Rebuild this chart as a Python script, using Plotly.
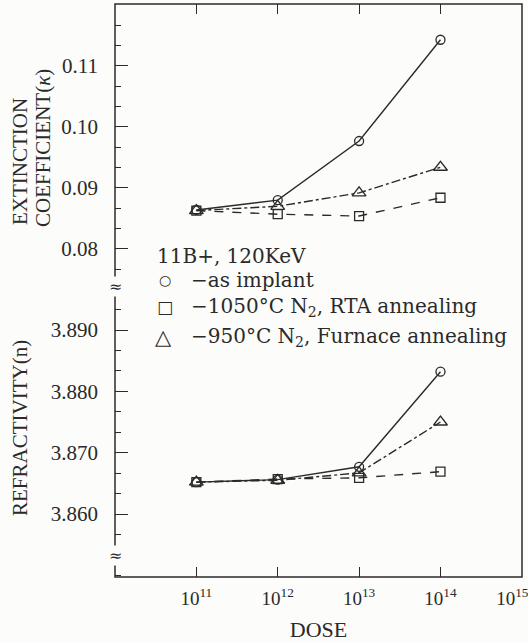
import plotly.graph_objects as go

# ---- data ----
dose = [1e11, 1e12, 1e13, 1e14]
kappa_implant = [0.0864, 0.0880, 0.0977, 0.1143]
kappa_rta = [0.0863, 0.0857, 0.0854, 0.0884]
kappa_furnace = [0.0863, 0.0870, 0.0892, 0.0934]
n_implant = [3.8652, 3.8656, 3.8677, 3.8832]
n_rta = [3.8652, 3.8657, 3.8659, 3.8669]
n_furnace = [3.8652, 3.8655, 3.8667, 3.8750]

x_tickvals = [1e11, 1e12, 1e13, 1e14, 1e15]
x_ticktext = ["10<sup>11</sup>", "10<sup>12</sup>", "10<sup>13</sup>", "10<sup>14</sup>",
              "10<sup>15</sup>&nbsp;&nbsp;&nbsp;&nbsp;"]
k_tickvals = [0.08, 0.09, 0.10, 0.11]
n_tickvals = [3.860, 3.870, 3.880, 3.890]

FONT = "Liberation Serif"
INK = "#2a2a2a"
BG = "#fcfcfa"
W, H = 528, 643
L, R, T, B = 115, 6, 4, 66
plot_h = H - T - B
split_px = 287
split = (H - B - split_px) / plot_h


def py(p):
    return (H - B - p) / plot_h


fig = go.Figure()

styles = [
    ("as implant", "circle-open", "solid", 9, kappa_implant, n_implant),
    ("RTA", "square-open", "dash", 9, kappa_rta, n_rta),
    ("Furnace", "triangle-up-open", "dashdot", 12, kappa_furnace, n_furnace),
]
for name, sym, dash, ms, kv, nv in [styles[2], styles[0], styles[1]]:
    fig.add_trace(go.Scatter(x=dose, y=kv, xaxis="x2", yaxis="y", mode="lines+markers",
                             line=dict(color=INK, width=1.4, dash=dash),
                             marker=dict(symbol=sym, size=ms, color=INK, line=dict(width=1.3, color=INK)),
                             showlegend=False, name=name))
    fig.add_trace(go.Scatter(x=dose, y=nv, xaxis="x", yaxis="y2", mode="lines+markers",
                             line=dict(color=INK, width=1.4, dash=dash),
                             marker=dict(symbol=sym, size=ms, color=INK, line=dict(width=1.3, color=INK)),
                             showlegend=False, name=name))

tickfont = dict(family=FONT, size=21, color=INK)

fig.update_layout(
    width=W, height=H,
    margin=dict(l=L, r=R, t=T, b=B, autoexpand=False),
    paper_bgcolor=BG, plot_bgcolor=BG,
    font=dict(family=FONT, color=INK),
    xaxis=dict(type="log", range=[10, 15.002], anchor="y2", domain=[0, 1], automargin=False,
               tickvals=x_tickvals, ticktext=x_ticktext, ticks="inside", ticklen=10,
               tickwidth=1.3, tickcolor=INK, tickfont=dict(family=FONT, size=19, color=INK),
               showgrid=False, zeroline=False, showline=False, ticklabelstandoff=8,
               ticklabeloverflow="allow",
               title=dict(text="DOSE", font=dict(family=FONT, size=22, color=INK), standoff=13)),
    xaxis2=dict(type="log", range=[10, 15.002], anchor="y", side="top", overlaying="x", automargin=False,
                tickvals=x_tickvals[:-1], ticks="inside", ticklen=10, tickwidth=1.3, tickcolor=INK,
                showticklabels=False, showgrid=False, zeroline=False, showline=False),
    yaxis=dict(domain=[split, 1], range=[0.07377, 0.12016], tickvals=k_tickvals, tickformat=".2f",
               ticks="inside", ticklen=13, tickwidth=1.3, tickcolor=INK, tickfont=tickfont, automargin=False,
               ticklabelstandoff=16, showgrid=False, zeroline=False, showline=False, anchor="x2",
               minor=dict(tick0=0.08, dtick=0.01 / 3, ticks="inside", ticklen=6, tickwidth=1.2,
                          tickcolor=INK, showgrid=False)),
    yaxis2=dict(domain=[0, split], range=[3.84973, 3.89701], tickvals=n_tickvals, tickformat=".3f",
                ticks="inside", ticklen=13, tickwidth=1.3, tickcolor=INK, tickfont=tickfont, automargin=False,
                ticklabelstandoff=16, showgrid=False, zeroline=False, showline=False, anchor="x",
                minor=dict(tick0=3.86, dtick=0.01 / 3, ticks="inside", ticklen=6, tickwidth=1.2,
                           tickcolor=INK, showgrid=False)),
)

fig.add_shape(type="rect", xref="paper", yref="paper", x0=0, x1=1, y0=0, y1=1,
              line=dict(color=INK, width=1.5), layer="above")

ann = []
for p in [287, 555]:
    ann.append(dict(x=0, y=py(p), xref="paper", yref="paper", text="≈", showarrow=False,
                    font=dict(family="DejaVu Serif", size=16, color=INK),
                    bgcolor=BG, borderpad=0, xanchor="center", yanchor="middle"))

TF = dict(family=FONT, size=21, color=INK)
ann.append(dict(x=0, xshift=20 - L, y=py(162), xref="paper", yref="paper", text="EXTINCTION",
                textangle=-90, showarrow=False, xanchor="center", yanchor="middle", font=TF))
ann.append(dict(x=0, xshift=43 - L, y=py(148), xref="paper", yref="paper", text="COEFFICIENT(<i>κ</i>)",
                textangle=-90, showarrow=False, xanchor="center", yanchor="middle", font=TF))
ann.append(dict(x=0, xshift=20 - L, y=py(428), xref="paper", yref="paper", text="REFRACTIVITY(n)",
                textangle=-90, showarrow=False, xanchor="center", yanchor="middle", font=TF))

LEGF = "DejaVu Serif"
leg = [
    (155, 256, "11B+, 120KeV", LEGF, 20),
    (157, 280, "○", "DejaVu Sans", 14),
    (189, 280, "−as implant", LEGF, 20),
    (155, 307, "□", "DejaVu Sans", 17),
    (189, 307, "−1050°C N<sub>2</sub>, RTA annealing", LEGF, 20),
    (153, 337, "△", "DejaVu Sans", 21),
    (189, 337, "−950°C N<sub>2</sub>, Furnace annealing", LEGF, 20),
]
for px_, py_, txt, fam, sz in leg:
    ann.append(dict(x=0, xshift=px_ - L, y=py(py_), xref="paper", yref="paper", text=txt,
                    showarrow=False, xanchor="left", yanchor="middle",
                    font=dict(family=fam, size=sz, color=INK)))

fig.update_layout(annotations=ann)
fig.write_html("out.html", config={"displayModeBar": False},
               post_script="document.body.style.margin='0';")
